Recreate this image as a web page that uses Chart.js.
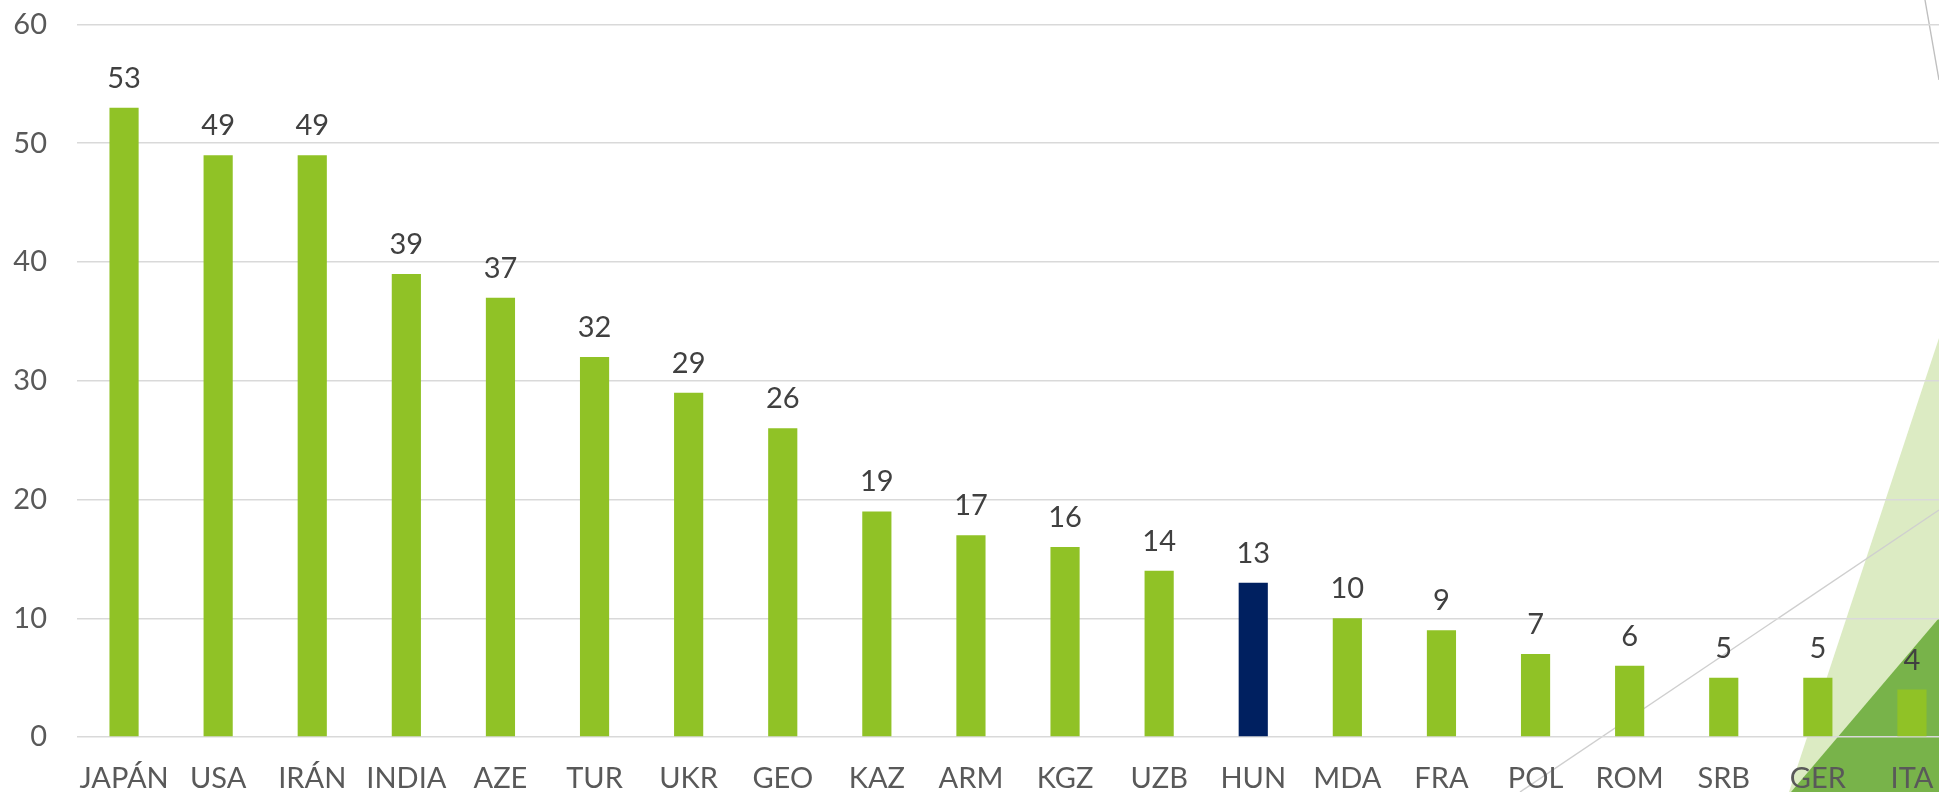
<!DOCTYPE html>
<html>
<head>
<meta charset="utf-8">
<script src="https://cdn.jsdelivr.net/npm/chart.js@4"></script>
<style>
  html, body { margin: 0; padding: 0; background: #fff; overflow: hidden; width: 1939px; height: 792px; }
  #deco { position: absolute; left: 0; top: 0; width: 1939px; height: 792px; }
  #wrap { position: absolute; left: 0; top: 0; width: 1960px; height: 820px; }
</style>
</head>
<body>
<!-- slide theme decoration, sits behind the chart -->
<svg id="deco" viewBox="0 0 1939 792">
  <line x1="1925" y1="0" x2="1939" y2="80" stroke="#bfbfbf" stroke-width="1.4"/>
  <polygon points="1789,792 1939,338 1939,792" fill="#dcebc3"/>
  <line x1="1520" y1="792" x2="1939" y2="510" stroke="#cfcfcf" stroke-width="1.4"/>
  <polygon points="1791,792 1939,618 1939,792" fill="#78b34a"/>
</svg>
<div id="wrap"><canvas id="chart"></canvas></div>
<script>
const countries = ['JAPÁN', 'USA', 'IRÁN', 'INDIA', 'AZE', 'TUR', 'UKR', 'GEO', 'KAZ', 'ARM',
                   'KGZ', 'UZB', 'HUN', 'MDA', 'FRA', 'POL', 'ROM', 'SRB', 'GER', 'ITA'];
const values = [53, 49, 49, 39, 37, 32, 29, 26, 19, 17, 16, 14, 13, 10, 9, 7, 6, 5, 5, 4];
const highlight = 'HUN';

const FONT = 'Lato, "Open Sans", sans-serif';

const valueLabels = {
    id: 'valueLabels',
    afterDatasetsDraw(chart) {
        const ctx = chart.ctx;
        const meta = chart.getDatasetMeta(0);
        ctx.save();
        ctx.font = '29px ' + FONT;
        ctx.fillStyle = '#404040';
        ctx.textAlign = 'center';
        ctx.textBaseline = 'alphabetic';
        meta.data.forEach((bar, i) => {
            ctx.fillText(values[i], bar.x, bar.y - 20);
        });
        ctx.restore();
    }
};

new Chart(document.getElementById('chart'), {
    type: 'bar',
    data: {
        labels: countries,
        datasets: [{
            data: values,
            backgroundColor: countries.map(c => c === highlight ? '#002060' : '#90c226'),
            categoryPercentage: 1,
            barPercentage: 0.31
        }]
    },
    options: {
        responsive: true,
        maintainAspectRatio: false,
        animation: false,
        layout: { padding: { top: 24.5, right: 1, left: 0, bottom: 0 } },
        plugins: { legend: { display: false }, tooltip: { enabled: false } },
        scales: {
            x: {
                grid: { display: false, drawTicks: false },
                border: { display: false },
                ticks: { color: '#595959', font: { family: FONT, size: 29 }, padding: 24, maxRotation: 0, autoSkip: false },
                afterFit: s => { s.height = 83; }
            },
            y: {
                min: 0,
                max: 60,
                ticks: { stepSize: 10, color: '#595959', font: { family: FONT, size: 29 }, padding: 0 },
                // invisible tick marks keep the labels 30px off the plot
                grid: { color: '#d9d9d9', lineWidth: 1.5, drawTicks: true, tickLength: 30, tickColor: 'rgba(0,0,0,0)' },
                border: { display: false },
                afterFit: s => { s.width = 77; }
            }
        }
    },
    plugins: [valueLabels]
});
</script>
</body>
</html>
